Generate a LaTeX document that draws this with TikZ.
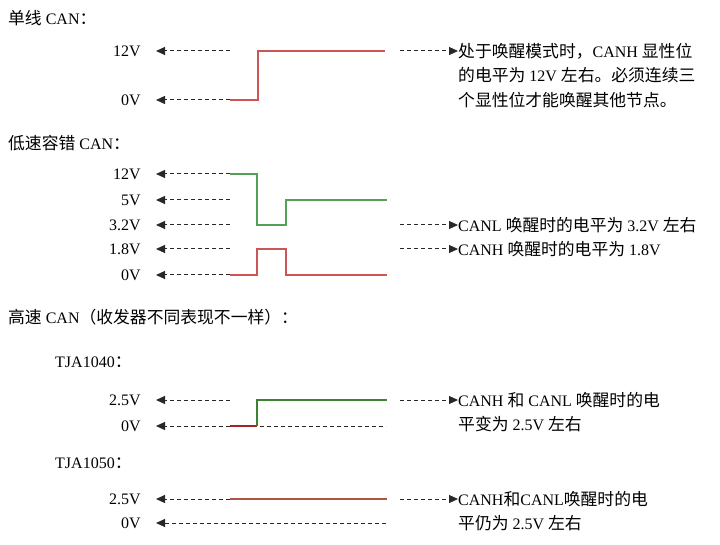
\documentclass[tikz,border=0pt]{standalone}
\usepackage{fontspec}
\setmainfont{Liberation Serif}
\newfontfamily\cjk[Scale=1.05]{Noto Sans CJK SC}
\usetikzlibrary{arrows.meta}
\newcommand\zh[1]{{\cjk #1}}
\definecolor{wred}{RGB}{205,85,85}
\definecolor{wgreen}{RGB}{85,160,85}
\definecolor{dred}{RGB}{165,35,35}
\definecolor{dgreen}{RGB}{60,130,50}
\definecolor{brn}{RGB}{175,85,65}
\definecolor{dsh}{RGB}{40,40,40}
\tikzset{
  txt/.style={font=\fontsize{16}{19}\selectfont, inner sep=0pt},
  head/.style={txt, anchor=west},
  lvl/.style={txt, anchor=east},
  note/.style={txt, anchor=west},
  dl/.style={dsh, line width=1pt, dash pattern=on 4pt off 3pt, -{Triangle[length=9pt,width=8pt]}},
  dplain/.style={dsh, line width=1pt, dash pattern=on 4pt off 3pt},
  wave/.style={line width=1.4pt, line join=miter}
}
\begin{document}
\begin{tikzpicture}[x=1pt,y=-1pt]
\useasboundingbox (0,0) rectangle (720,545);
% ---------- 单线 CAN ----------
\node[head] (h1) at (8,18) {\zh{单线} CAN\zh{：}};
\node[lvl] (l12a) at (141,51) {12V};
\node[lvl] (l0a) at (141,100) {0V};
\coordinate (e12a) at (230,51);
\coordinate (e0a) at (230,100);
\draw[dl] (e12a) -- ([xshift=15pt]l12a.east);
\draw[dl] (e0a) -- ([xshift=15pt]l0a.east);
\draw[wave, wred] (230,100) -- (258,100) -- (258,51) -- (385,51);
\coordinate (r1) at (400,51);
\node[note] (n1a) at (458,51) {\zh{处于唤醒模式时，}CANH \zh{显性位}};
\node[note] (n1b) at (458,75) {\zh{的电平为} 12V \zh{左右。必须连续三}};
\node[note] (n1c) at (458,100) {\zh{个显性位才能唤醒其他节点。}};
\draw[dl] (r1) -- (n1a.west);
% ---------- 低速容错 CAN ----------
\node[head] (h2) at (8,143) {\zh{低速容错} CAN\zh{：}};
\node[lvl] (l12b) at (141,174) {12V};
\node[lvl] (l5b) at (141,200) {5V};
\node[lvl] (l32b) at (141,225) {3.2V};
\node[lvl] (l18b) at (141,249) {1.8V};
\node[lvl] (l0b) at (141,275) {0V};
\coordinate (e12b) at (230,174);
\coordinate (e5b) at (230,200);
\coordinate (e32b) at (230,225);
\coordinate (e18b) at (230,249);
\coordinate (e0b) at (230,275);
\foreach \e/\l in {e12b/l12b,e5b/l5b,e32b/l32b,e18b/l18b,e0b/l0b}
  \draw[dl] (\e) -- ([xshift=15pt]\l.east);
\draw[wave, wgreen] (230,174) -- (257,174) -- (257,225) -- (286,225) -- (286,200) -- (387,200);
\draw[wave, wred] (230,275) -- (257,275) -- (257,249) -- (286,249) -- (286,275) -- (387,275);
\coordinate (r2) at (400,225);
\coordinate (r3) at (400,249);
\node[note] (n2) at (458,225) {CANL \zh{唤醒时的电平为} 3.2V \zh{左右}};
\node[note] (n3) at (458,249) {CANH \zh{唤醒时的电平为} 1.8V};
\draw[dl] (r2) -- (n2.west);
\draw[dl] (r3) -- (n3.west);
% ---------- 高速 CAN ----------
\node[head] (h3) at (8,317) {\zh{高速} CAN\zh{（收发器不同表现不一样）：}};
\node[head] (t1) at (55,362) {TJA1040\zh{：}};
\node[lvl] (l25c) at (141,400) {2.5V};
\node[lvl] (l0c) at (141,426) {0V};
\coordinate (e25c) at (230,400);
\coordinate (e0c) at (230,426);
\draw[dl] (e25c) -- ([xshift=15pt]l25c.east);
\draw[dl] (e0c) -- ([xshift=15pt]l0c.east);
\coordinate (z0c) at (260,426);
\coordinate (z1c) at (386,426);
\draw[dplain] (z0c) -- (z1c);
\draw[wave, dred] (230,426) -- (257,426);
\draw[wave, dgreen] (257,426) -- (257,400) -- (387,400);
\coordinate (r4) at (400,400);
\node[note] (n4a) at (458,400) {CANH \zh{和} CANL \zh{唤醒时的电}};
\node[note] (n4b) at (458,424) {\zh{平变为} 2.5V \zh{左右}};
\draw[dl] (r4) -- (n4a.west);
% ---------- TJA1050 ----------
\node[head] (t2) at (55,463) {TJA1050\zh{：}};
\node[lvl] (l25d) at (141,499) {2.5V};
\node[lvl] (l0d) at (141,523) {0V};
\coordinate (e25d) at (230,499);
\coordinate (e0d) at (386,523);
\draw[dl] (e25d) -- ([xshift=15pt]l25d.east);
\draw[dl] (e0d) -- ([xshift=15pt]l0d.east);
\draw[wave, brn] (230,499) -- (387,499);
\coordinate (r5) at (400,499);
\node[note] (n5a) at (458,499) {CANH\zh{和}CANL\zh{唤醒时的电}};
\node[note] (n5b) at (458,523) {\zh{平仍为} 2.5V \zh{左右}};
\draw[dl] (r5) -- (n5a.west);
\end{tikzpicture}
\end{document}
